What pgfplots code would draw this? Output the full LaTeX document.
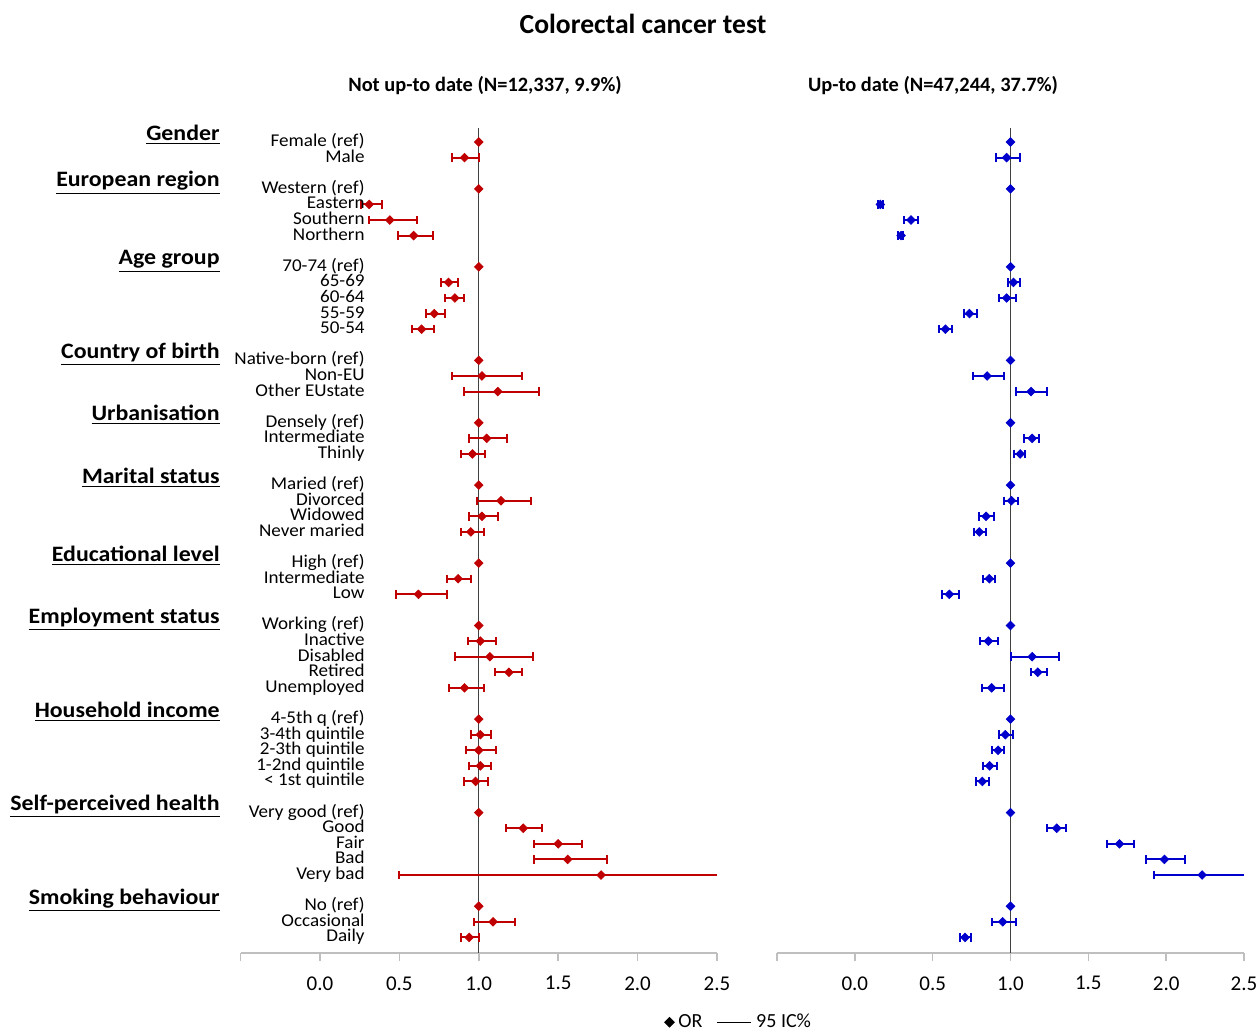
\documentclass[border=0pt]{standalone}
\usepackage{fontspec}
\setmainfont{Carlito}
\newfontfamily\lblfont{Carlito}[FakeStretch=1.06]
\newfontfamily\hdrfont{Carlito}[FakeStretch=1.085]
\usepackage{pgfplots}
\pgfplotsset{compat=1.18}
\usepackage{pgfplotstable}

\definecolor{redc}{RGB}{192,0,0}
\definecolor{bluec}{RGB}{0,0,204}
\definecolor{axgray}{RGB}{191,191,191}

% row x lo hi  (row = position from top)
\pgfplotstableread{
row x lo hi
1 0.91 0.83 1.00
4 0.31 0.26 0.39
5 0.44 0.31 0.61
6 0.59 0.49 0.71
9 0.81 0.76 0.87
10 0.85 0.79 0.91
11 0.72 0.67 0.79
12 0.64 0.58 0.72
15 1.02 0.83 1.27
16 1.12 0.91 1.38
19 1.05 0.94 1.18
20 0.96 0.89 1.04
23 1.14 0.99 1.33
24 1.02 0.94 1.12
25 0.95 0.89 1.03
28 0.87 0.80 0.95
29 0.62 0.48 0.80
32 1.01 0.93 1.11
33 1.07 0.85 1.34
34 1.19 1.10 1.27
35 0.91 0.81 1.03
38 1.01 0.95 1.08
39 1.00 0.92 1.11
40 1.01 0.94 1.08
41 0.98 0.91 1.06
44 1.28 1.17 1.40
45 1.50 1.35 1.65
46 1.56 1.35 1.81
47 1.77 0.50 2.70
50 1.09 0.97 1.23
51 0.94 0.89 1.00
}\leftdata

\pgfplotstableread{
row x lo hi
1 0.975 0.907 1.062
4 0.164 0.150 0.180
5 0.361 0.318 0.408
6 0.297 0.280 0.310
9 1.019 0.982 1.062
10 0.975 0.924 1.036
11 0.736 0.699 0.783
12 0.582 0.543 0.622
15 0.850 0.757 0.956
16 1.132 1.038 1.235
19 1.139 1.087 1.181
20 1.062 1.021 1.096
23 1.006 0.956 1.051
24 0.843 0.796 0.892
25 0.800 0.768 0.843
28 0.864 0.824 0.901
29 0.607 0.560 0.667
32 0.858 0.805 0.922
33 1.139 1.001 1.310
34 1.175 1.134 1.237
35 0.879 0.815 0.959
38 0.967 0.929 1.014
39 0.920 0.882 0.956
40 0.866 0.826 0.911
41 0.819 0.779 0.864
44 1.297 1.237 1.357
45 1.700 1.621 1.792
46 1.989 1.873 2.124
47 2.231 1.920 2.700
50 0.950 0.879 1.036
51 0.708 0.676 0.744
}\rightdata

\pgfplotstableread{
row x
0 1
3 1
8 1
14 1
18 1
22 1
27 1
31 1
37 1
43 1
49 1
}\refdata

\pgfplotsset{
  forest/.style={
    scale only axis,
    height=412.5pt,
    xmin=-0.5, xmax=2.5,
    ymin=-52, ymax=0.9,
    axis x line=bottom,
    axis y line=none,
    x axis line style={-, draw=axgray, line width=0.8pt},
    xtick={-0.5,0,0.5,1,1.5,2,2.5},
    xticklabels={,0.0,0.5,1.0,1.5,2.0,2.5},
    tick align=outside,
    major tick length=4pt,
    xtick style={draw=axgray, line width=0.8pt},
    xticklabel style={font=\fontsize{10.5}{12}\selectfont, anchor=north, inner sep=0pt, yshift=-7.5pt},
    /pgf/number format/assume math mode=true,
    ytick=\empty,
    clip mode=individual,
  },
  orplot/.style={
    only marks, forget plot,
    mark=square*, mark size=1.5pt,
    mark options={rotate=45, fill=#1, draw=#1},
    color=#1,
    error bars/.cd,
      x dir=both, x explicit,
      error bar style={line width=1pt, #1},
      error mark=none,
  },
  capplot/.style={
    only marks, forget plot, mark=|, mark size=2.1pt,
    mark options={line width=1pt, draw=#1}, color=#1,
  },
}

\begin{document}
\begin{tikzpicture}
\useasboundingbox (0pt,0pt) rectangle (630pt,-517.5pt);

% ---------- left panel ----------
\begin{axis}[forest, width=238.25pt, at={(120.25pt,-64pt)}, anchor=north west,
  legend style={at={(1.048,-0.084)}, anchor=center, draw=none, fill=none,
    legend columns=2, font=\fontsize{10}{12}\selectfont,
    /tikz/every even column/.append style={column sep=5pt}},
  legend cell align=left]
  \addlegendimage{only marks, mark=square*, mark size=1.7pt, mark options={rotate=45}, black}
  \addlegendentry{OR}
  \addlegendimage{black, line width=0.8pt, line legend}
  \addlegendentry{95 IC\%}
  \addplot[black!75, line width=0.7pt, forget plot] coordinates {(1,-52) (1,0.9)};
  \addplot[capplot=redc] table[x=lo, y expr=-\thisrow{row}] {\leftdata};
  \addplot[capplot=redc] table[x=hi, y expr=-\thisrow{row}] {\leftdata};
  \addplot[orplot=redc] table[x=x, y expr=-\thisrow{row},
     x error minus expr=\thisrow{x}-\thisrow{lo},
     x error plus expr=\thisrow{hi}-\thisrow{x}] {\leftdata};
  \addplot[only marks, forget plot, mark=square*, mark size=1.5pt,
     mark options={rotate=45}, color=redc] table[x=x, y expr=-\thisrow{row}] {\refdata};
\end{axis}

% ---------- right panel ----------
\begin{axis}[forest, width=233.5pt, at={(388.5pt,-64pt)}, anchor=north west]
  \addplot[black!75, line width=0.7pt, forget plot] coordinates {(1,-52) (1,0.9)};
  \addplot[capplot=bluec] table[x=lo, y expr=-\thisrow{row}] {\rightdata};
  \addplot[capplot=bluec] table[x=hi, y expr=-\thisrow{row}] {\rightdata};
  \addplot[orplot=bluec] table[x=x, y expr=-\thisrow{row},
     x error minus expr=\thisrow{x}-\thisrow{lo},
     x error plus expr=\thisrow{hi}-\thisrow{x}] {\rightdata};
  \addplot[only marks, forget plot, mark=square*, mark size=1.5pt,
     mark options={rotate=45}, color=bluec] table[x=x, y expr=-\thisrow{row}] {\refdata};
\end{axis}

% ---------- titles ----------
\node[font=\bfseries\fontsize{13.8}{16}\selectfont] at (321.5pt,-12pt) {Colorectal cancer test};
\node[font=\bfseries\fontsize{10.2}{12}\selectfont] at (242.5pt,-43pt) {Not up-to date (N=12,337, 9.9\%)};
\node[font=\bfseries\fontsize{10.2}{12}\selectfont] at (466.5pt,-43pt) {Up-to date (N=47,244, 37.7\%)};

% ---------- row labels ----------
\foreach \r/\t in {0/Female (ref), 1/Male, 3/Western (ref), 4/Eastern, 5/Southern, 6/Northern,
  8/70-74 (ref), 9/65-69, 10/60-64, 11/55-59, 12/50-54,
  14/Native-born (ref), 15/Non-EU, 16/Other EUstate,
  18/Densely (ref), 19/Intermediate, 20/Thinly,
  22/Maried (ref), 23/Divorced, 24/Widowed, 25/Never maried,
  27/High (ref), 28/Intermediate, 29/Low,
  31/Working (ref), 32/Inactive, 33/Disabled, 34/Retired, 35/Unemployed,
  37/4-5th q (ref), 38/3-4th quintile, 39/2-3th quintile, 40/1-2nd quintile, 41/< 1st quintile,
  43/Very good (ref), 44/Good, 45/Fair, 46/Bad, 47/Very bad,
  49/No (ref), 50/Occasional, 51/Daily}
{
  \node[anchor=east, inner sep=0pt, text height=0.6em, text depth=0.15em,
        font=\lblfont\fontsize{9}{10}\selectfont]
    at (182.5pt, {-(71+7.7975*\r)*1pt}) {\t};
}

% ---------- group headers ----------
\foreach \r/\t in {0/Gender, 3/European region, 8/Age group, 14/Country of birth,
  18/Urbanisation, 22/Marital status, 27/Educational level, 31/Employment status,
  37/Household income, 43/Self-perceived health, 49/Smoking behaviour}
{
  \node[anchor=east, inner sep=0pt, text height=0.68em, text depth=0.18em,
        font=\hdrfont\bfseries\fontsize{11}{13}\selectfont]
    at (110pt, {-(67.5+7.7975*\r)*1pt}) {\underline{\t}};
}
\end{tikzpicture}
\end{document}
